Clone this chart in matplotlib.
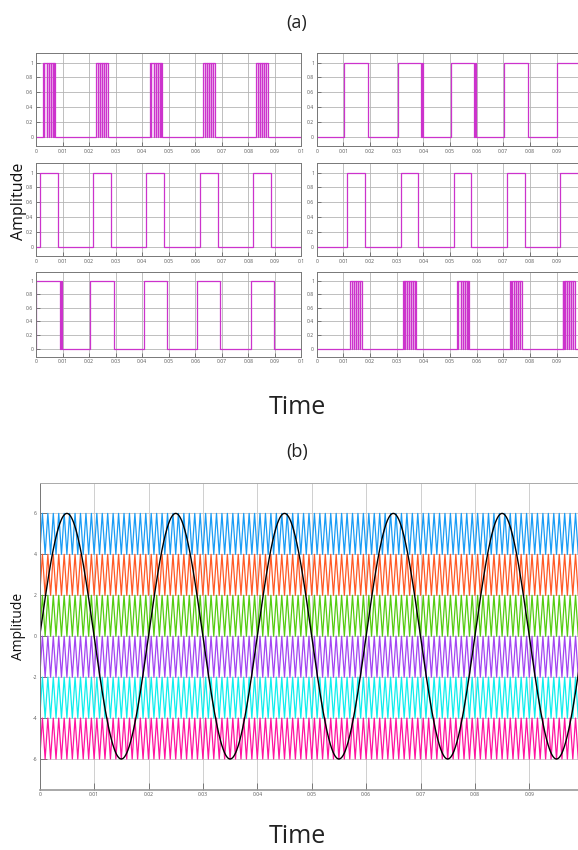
import numpy as np
import matplotlib.pyplot as plt

plt.rcParams['font.family'] = ['Open Sans', 'DejaVu Sans']

# ---- data ----
# (a) gate signals: "on" intervals in seconds, one list per panel
pulse_color = '#cc33cc'

# panels with dense switching: block start times + on pattern inside a block
blocks_a1 = [0.0025, 0.0226, 0.0428, 0.0629, 0.0829]
blocks_c2 = [0.0125, 0.0325, 0.0525, 0.0725, 0.0925]
block_pattern = [(0.0000, 0.00008), (0.00014, 0.00058), (0.00062, 0.00148),
                 (0.00152, 0.00228), (0.00232, 0.00298), (0.00302, 0.00378),
                 (0.00382, 0.00436), (0.00442, 0.0046)]

on_b1 = [(0.01035, 0.0191), (0.0304, 0.0390), (0.0394, 0.0397), (0.0504, 0.0590),
         (0.0593, 0.0596), (0.0703, 0.0791), (0.0902, 0.1)]
on_a2 = [(0.0014, 0.0082), (0.0215, 0.0282), (0.0416, 0.0482),
         (0.0616, 0.0684), (0.0818, 0.0886)]
on_b2 = [(0.0115, 0.0181), (0.0315, 0.0381), (0.0515, 0.0580),
         (0.0715, 0.0780), (0.0913, 0.1)]
on_a3 = [(0.0, 0.0092), (0.0095, 0.0098), (0.0205, 0.0292), (0.0406, 0.0492),
         (0.0608, 0.0693), (0.0809, 0.0896)]

x_ticks = [0, 0.01, 0.02, 0.03, 0.04, 0.05, 0.06, 0.07, 0.08, 0.09, 0.1]
x_labels = ['0', '0.01', '0.02', '0.03', '0.04', '0.05', '0.06', '0.07', '0.08', '0.09', '0.1']
y_ticks_a = [0, 0.2, 0.4, 0.6, 0.8, 1]
y_labels_a = ['0', '0.2', '0.4', '0.6', '0.8', '1']

# (b) reference sine and level-shifted triangular carriers
sine_amp = 6
sine_freq = 50
carrier_freq = 1000
carrier_bands = [(4, 6), (2, 4), (0, 2), (-2, 0), (-4, -2), (-6, -4)]
carrier_colors = ['#1a9cf5', '#ff5a26', '#55cc11', '#a346f2', '#10eeee', '#ff14a0']
y_ticks_b = [-6, -4, -2, 0, 2, 4, 6]


def blocks_to_on(starts, pattern):
    on = []
    for s in starts:
        for a, b in pattern:
            on.append((s + a, s + b))
    return on


def step_xy(on):
    xs = [0.0]
    ys = [0.0]
    for a, b in on:
        xs += [a, a, b, b]
        ys += [0, 1, 1, 0]
    xs.append(0.1)
    ys.append(0.0)
    return xs, ys


def style_axes(ax, yticks, ylabels, ylim, cut_right=False):
    ax.set_xlim(0, 0.1)
    ax.set_ylim(*ylim)
    ax.set_xticks(x_ticks)
    labels = list(x_labels)
    if cut_right:
        # the last label falls outside the picture
        labels[-1] = ''
    ax.set_xticklabels(labels)
    ax.set_yticks(yticks)
    ax.set_yticklabels(ylabels)
    ax.tick_params(direction='in', length=3, width=0.5, labelsize=3.6,
                   labelcolor='#555555', color='#555555', pad=2)
    ax.grid(True, color='#b4b4b4', linewidth=0.6)
    ax.set_axisbelow(True)
    for sp in ax.spines.values():
        sp.set_color('#777777')
        sp.set_linewidth(0.7)


fig = plt.figure(figsize=(5.78, 8.5), dpi=100)

W, H = 578.0, 850.0
cols = [(36.0, 265.5), (316.7, 266.5)]
rows = [(53.3, 146.0), (163.3, 256.0), (272.3, 356.7)]

panels = [
    [blocks_to_on(blocks_a1, block_pattern), on_b1],
    [on_a2, on_b2],
    [on_a3, blocks_to_on(blocks_c2, block_pattern)],
]

for r, (top, bot) in enumerate(rows):
    for c, (left, width) in enumerate(cols):
        ax = fig.add_axes([left / W, 1 - bot / H, width / W, (bot - top) / H])
        xs, ys = step_xy(panels[r][c])
        ax.plot(xs, ys, color=pulse_color, linewidth=0.9)
        style_axes(ax, y_ticks_a, y_labels_a, (-0.12, 1.125), cut_right=(c == 1))

# bottom panel
axb = fig.add_axes([39.7 / W, 1 - 789.7 / H, 544.0 / W, 307.0 / H])
half = 0.5 / carrier_freq
tv = np.arange(0, 0.1 + half, half)
for (lo, hi), col in zip(carrier_bands, carrier_colors):
    yv = np.where(np.arange(len(tv)) % 2 == 0, lo, hi)
    axb.plot(tv, yv, color=col, linewidth=0.9)

t = np.linspace(0, 0.1, 2000)
axb.plot(t, sine_amp * np.sin(2 * np.pi * sine_freq * t), color='black', linewidth=1.0)
style_axes(axb, y_ticks_b, [str(v) for v in y_ticks_b], (-7.5, 7.5), cut_right=True)
axb.tick_params(length=5)
axb.grid(True, color='#c8c8c8', linewidth=0.6)
axb.spines['top'].set_color('#aaaaaa')
axb.spines['bottom'].set_color('#999999')
axb.spines['bottom'].set_linewidth(1.2)

# labels
fig.text(297 / W, 1 - 23 / H, '(a)', ha='center', va='center', fontsize=13, color='#222222')
fig.text(19 / W, 1 - 201 / H, 'Amplitude', ha='center', va='center', rotation=90,
         fontsize=11.5, color='#111111')
fig.text(297 / W, 1 - 414 / H, 'Time', ha='center', va='baseline', fontsize=18, color='#222222')
fig.text(297 / W, 1 - 452 / H, '(b)', ha='center', va='center', fontsize=13, color='#222222')
fig.text(18.5 / W, 1 - 626 / H, 'Amplitude', ha='center', va='center', rotation=90,
         fontsize=10, color='#111111')
fig.text(297 / W, 1 - 849 / H, 'Time', ha='center', va='bottom', fontsize=18, color='#222222')

fig.savefig('out.png', dpi=100)
